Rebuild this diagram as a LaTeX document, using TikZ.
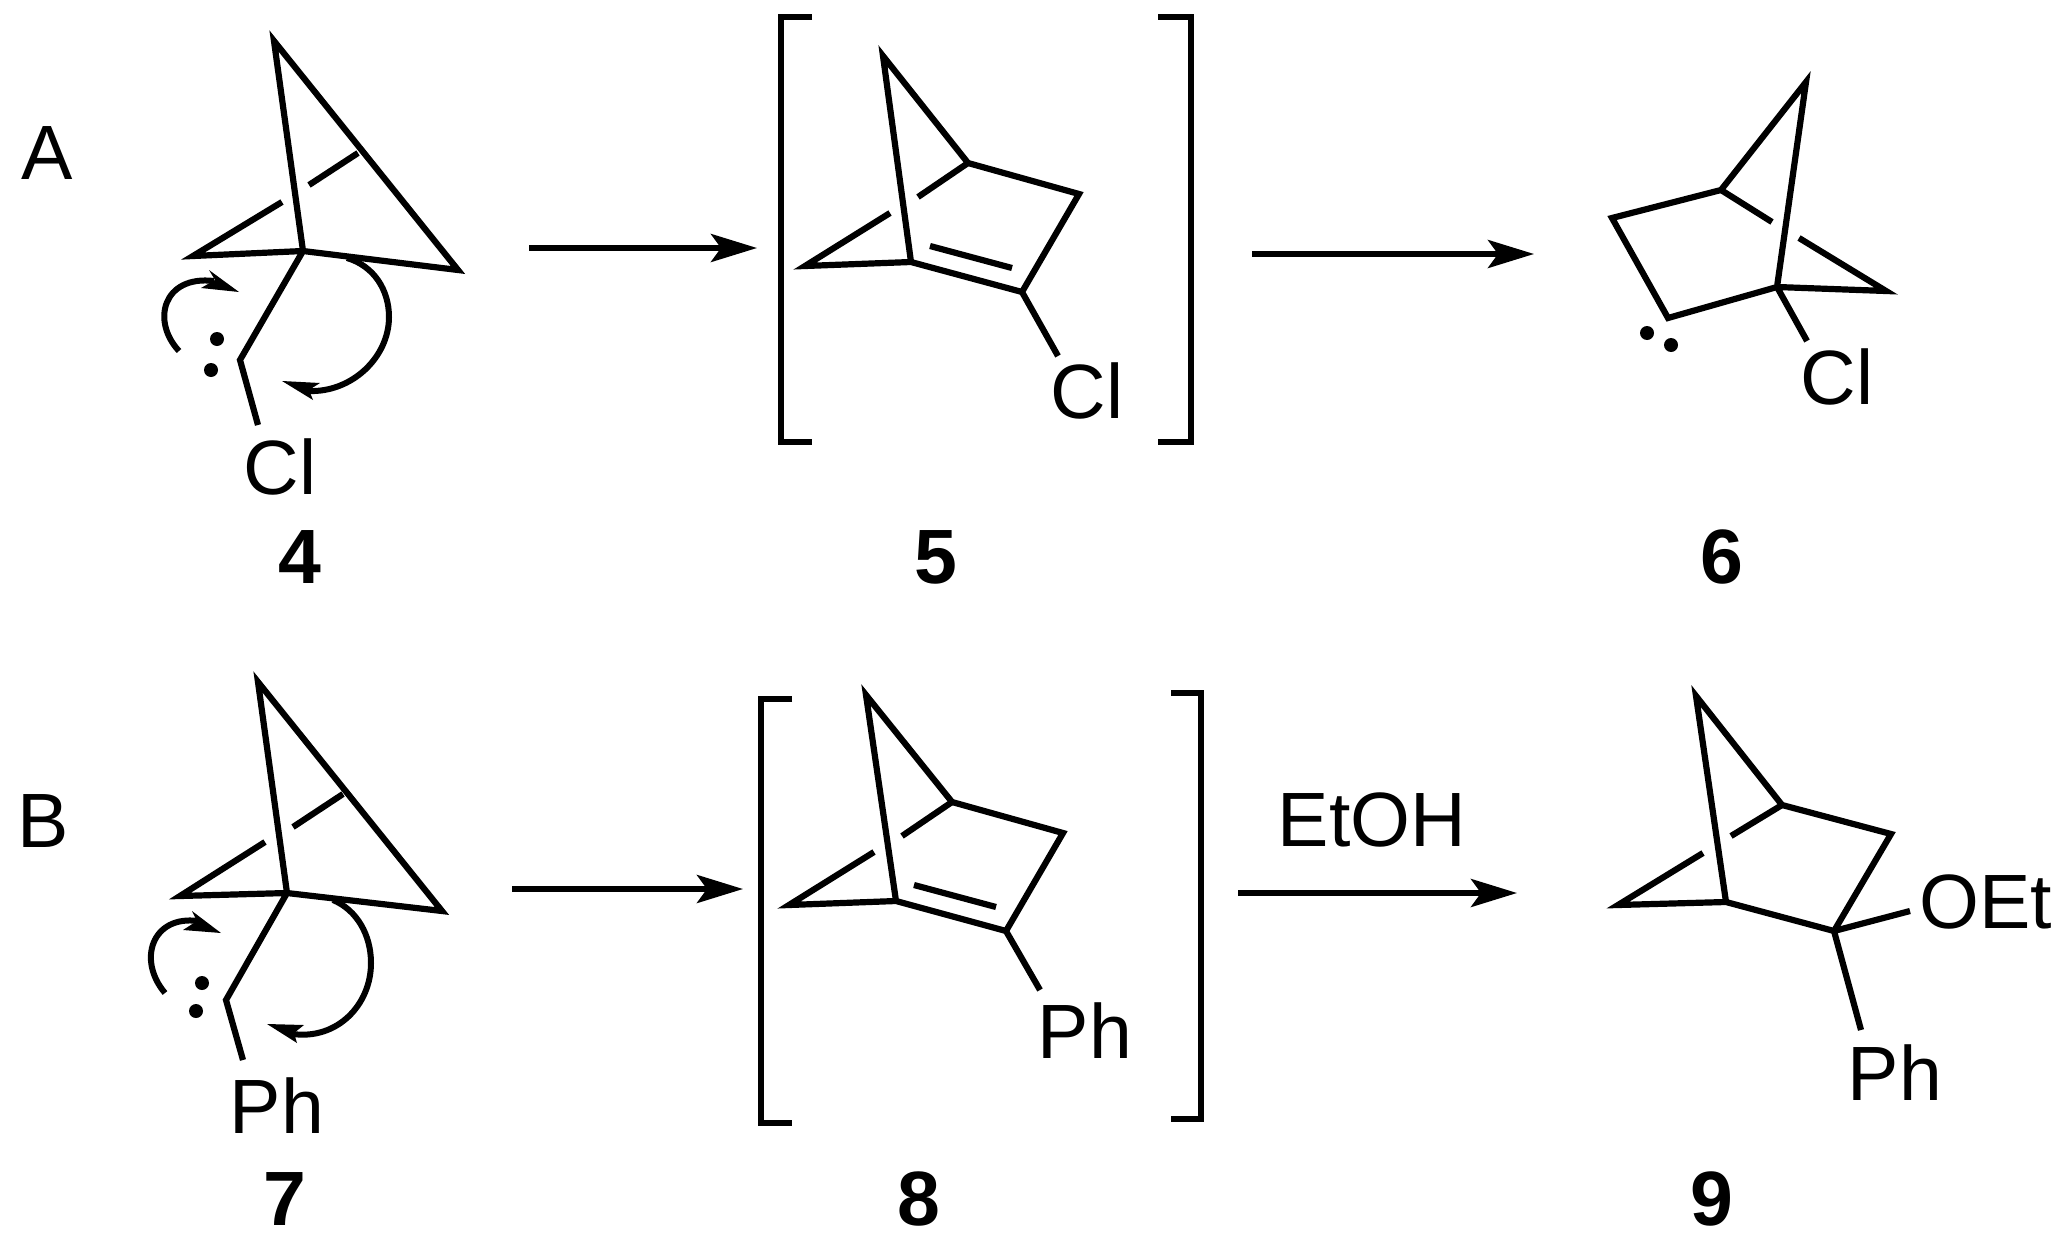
\documentclass[tikz,border=0pt]{standalone}
\usepackage{fontspec}
\setmainfont{Liberation Sans}
\usetikzlibrary{arrows.meta}
\tikzset{
  bond/.style={line width=3.1pt,miter limit=25,line join=miter},
  curly/.style={line width=3pt},
  rxn/.style={line width=2.8pt,-{Stealth[length=23pt,width=14pt,inset=5pt]}},
  brack/.style={line width=3.2pt,miter limit=10},
  atom/.style={inner sep=0pt,outer sep=0pt,anchor=base,font=\fontsize{38.5pt}{40pt}\selectfont},
  cmpd/.style={inner sep=0pt,outer sep=0pt,anchor=base,font=\fontsize{38.5pt}{40pt}\selectfont\bfseries},
  edot/.style={fill=black,circle,inner sep=0pt,minimum size=7pt}
}
\begin{document}
\begin{tikzpicture}[x=0.5pt,y=-0.5pt]
\useasboundingbox (0,0) rectangle (2065,1247);
% ---- labels
\node[atom] (lA) at (47,179) {A};
\node[atom] (lB) at (43,847) {B};
\node[cmpd] (n4) at (300,583) {4};
\node[cmpd] (n5) at (936,583) {5};
\node[cmpd] (n6) at (1722,583) {6};
\node[cmpd] (n7) at (285,1225) {7};
\node[cmpd] (n8) at (919,1225) {8};
\node[cmpd] (n9) at (1712,1225) {9};
% ---- compound 4
\coordinate (a1) at (274,41); \coordinate (a2) at (303,251);
\coordinate (a3) at (193,256); \coordinate (a4) at (458,270);
\coordinate (a5) at (358,153); \coordinate (a6) at (309,185);
\coordinate (a7) at (282,202); \coordinate (a8) at (240,360);
\coordinate (a9) at (258,425);
\draw[bond] (a7) -- (a3) -- (a2) -- (a4) -- (a1) -- (a2) -- (a8) -- (a9);
\draw[bond] (a5) -- (a6);
\node[atom] (clA) at (280,494) {Cl};
\node[edot] (da1) at (217,339) {}; \node[edot] (da2) at (211,370) {};
\draw[curly] (179,351) .. controls (151,321) and (163,275) .. (214,281);
\fill (239,292) -- (209,270) -- (215,280) -- (201,288) -- cycle;
\draw[curly] (347,258) .. controls (374,266) and (389,290) .. (389,317) .. controls (389,357) and (352,393) .. (308,391);
\fill (282,381) -- (320,383) -- (309,390) -- (313,400) -- cycle;
% ---- compound 5
\draw[brack] (812,17) -- (781,17) -- (781,442) -- (812,442);
\draw[brack] (1158,17) -- (1191,17) -- (1191,442) -- (1158,442);
\coordinate (b1) at (883,56); \coordinate (b2) at (911,262);
\coordinate (b3) at (805,266); \coordinate (b4) at (968,163);
\coordinate (b5) at (1079,194); \coordinate (b6) at (1022,292);
\coordinate (b7) at (1058,356); \coordinate (b8) at (918,197);
\coordinate (b9) at (890,213); \coordinate (b10) at (930,246);
\coordinate (b11) at (1012,268);
\draw[bond] (b9) -- (b3) -- (b2) -- (b1) -- (b4) -- (b5) -- (b6) -- (b2);
\draw[bond] (b4) -- (b8);
\draw[bond] (b6) -- (b7);
\draw[bond] (b10) -- (b11);
\node[atom] (clB) at (1087,418) {Cl};
% ---- compound 6
\coordinate (c1) at (1806,82); \coordinate (c2) at (1777,287);
\coordinate (c3) at (1886,291); \coordinate (c4) at (1799,238);
\coordinate (c5) at (1721,190); \coordinate (c6) at (1772,222);
\coordinate (c7) at (1612,218); \coordinate (c8) at (1668,318);
\coordinate (c9) at (1807,341);
\draw[bond] (c4) -- (c3) -- (c2) -- (c1) -- (c5) -- (c7) -- (c8) -- (c2) -- (c9);
\draw[bond] (c5) -- (c6);
\node[atom] (clC) at (1837,404) {Cl};
\node[edot] (dc1) at (1647,333) {}; \node[edot] (dc2) at (1671,345) {};
% ---- compound 7
\coordinate (d1) at (258,682); \coordinate (d2) at (287,893);
\coordinate (d3) at (180,896); \coordinate (d4) at (442,911);
\coordinate (d5) at (343,794); \coordinate (d6) at (293,827);
\coordinate (d7) at (265,842); \coordinate (d8) at (226,1000);
\coordinate (d9) at (243,1060);
\draw[bond] (d7) -- (d3) -- (d2) -- (d4) -- (d1) -- (d2) -- (d8) -- (d9);
\draw[bond] (d5) -- (d6);
\node[atom] (ph7) at (277,1133) {Ph};
\node[edot] (dd1) at (202,983) {}; \node[edot] (dd2) at (196,1011) {};
\draw[curly] (165,993) .. controls (137,960) and (152,915) .. (198,921);
\fill (221,933) -- (192,911) -- (197,921) -- (183,930) -- cycle;
\draw[curly] (333,900) .. controls (357,910) and (371,935) .. (371,963) .. controls (371,1005) and (337,1040) .. (293,1034);
\fill (267,1024) -- (304,1025) -- (294,1033) -- (297,1043) -- cycle;
% ---- compound 8
\draw[brack] (792,699) -- (761,699) -- (761,1123) -- (792,1123);
\draw[brack] (1171,693) -- (1201,693) -- (1201,1119) -- (1171,1119);
\coordinate (e1) at (866,695); \coordinate (e2) at (896,901);
\coordinate (e3) at (789,905); \coordinate (e4) at (952,802);
\coordinate (e5) at (1063,833); \coordinate (e6) at (1006,931);
\coordinate (e7) at (1040,990); \coordinate (e8) at (902,836);
\coordinate (e9) at (874,852); \coordinate (e10) at (914,885);
\coordinate (e11) at (996,907);
\draw[bond] (e9) -- (e3) -- (e2) -- (e1) -- (e4) -- (e5) -- (e6) -- (e2);
\draw[bond] (e4) -- (e8);
\draw[bond] (e6) -- (e7);
\draw[bond] (e10) -- (e11);
\node[atom] (ph8) at (1085,1058) {Ph};
% ---- compound 9
\coordinate (f1) at (1696,696); \coordinate (f2) at (1726,902);
\coordinate (f3) at (1618,905); \coordinate (f4) at (1703,853);
\coordinate (f5) at (1782,805); \coordinate (f6) at (1731,836);
\coordinate (f7) at (1891,834); \coordinate (f8) at (1834,931);
\coordinate (f9) at (1910,911); \coordinate (f10) at (1861,1030);
\draw[bond] (f4) -- (f3) -- (f2) -- (f1) -- (f5) -- (f7) -- (f8) -- (f2);
\draw[bond] (f5) -- (f6);
\draw[bond] (f8) -- (f9);
\draw[bond] (f8) -- (f10);
\node[atom] (oet) at (1986,928) {OEt};
\node[atom] (ph9) at (1895,1100) {Ph};
% ---- reaction arrows
\coordinate (r1s) at (529,248); \coordinate (r1e) at (757,248);
\coordinate (r2s) at (1252,254); \coordinate (r2e) at (1534,254);
\coordinate (r3s) at (512,889); \coordinate (r3e) at (743,889);
\coordinate (r4s) at (1238,893); \coordinate (r4e) at (1517,893);
\draw[rxn] (r1s) -- (r1e);
\draw[rxn] (r2s) -- (r2e);
\draw[rxn] (r3s) -- (r3e);
\draw[rxn] (r4s) -- (r4e);
\node[atom] (etoh) at (1372,846) {EtOH};
\end{tikzpicture}
\end{document}
